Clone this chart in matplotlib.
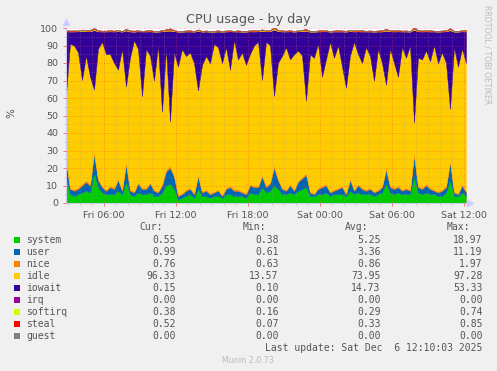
import matplotlib
matplotlib.use('Agg')
import matplotlib.pyplot as plt
from matplotlib.patches import Rectangle
import numpy as np

# 5-minute munin samples, read every 20 min (Fri 02:50 -> Sat 12:10)
start_hour = 2 + 50 / 60
step_hour = 20 / 60

system = [15, 5, 4, 5, 6, 7, 6, 17, 9, 6,
          5, 5, 5, 7, 5, 12, 5, 4, 6, 5,
          5, 6, 4, 4, 6, 10, 11, 8, 2, 3,
          4, 5, 3, 8, 4, 4, 3, 4, 4, 3,
          5, 5, 4, 4, 4, 3, 6, 5, 5, 9,
          6, 7, 10, 8, 5, 5, 6, 5, 7, 8,
          9, 4, 4, 5, 5, 6, 4, 5, 5, 5,
          4, 7, 5, 6, 5, 5, 5, 4, 5, 6,
          11, 6, 5, 6, 5, 5, 5, 15, 6, 5,
          6, 5, 5, 4, 4, 6, 13, 4, 4, 6,
          4]
user = [9, 3, 3, 3, 4, 5, 4, 11, 4, 3,
        2, 4, 3, 6, 2, 10, 2, 2, 5, 3,
        3, 5, 3, 2, 4, 8, 9, 7, 2, 2,
        3, 3, 2, 7, 2, 3, 2, 2, 3, 1,
        3, 4, 3, 3, 2, 2, 4, 4, 4, 6,
        3, 4, 10, 5, 3, 2, 4, 2, 5, 6,
        7, 2, 1, 3, 4, 4, 2, 2, 3, 4,
        1, 6, 2, 4, 3, 2, 3, 2, 2, 3,
        8, 3, 3, 3, 2, 3, 2, 12, 3, 3,
        4, 3, 2, 2, 3, 3, 10, 2, 1, 4,
        2]
nice = [0.9, 0.8, 0.8, 0.9, 1.1, 1.0, 0.9, 1.6, 0.9, 0.8,
        0.8, 0.9, 0.8, 1.0, 0.7, 1.4, 0.8, 0.7, 0.9, 0.8,
        0.8, 0.9, 0.7, 0.7, 0.9, 1.2, 1.3, 1.0, 0.7, 0.7,
        0.8, 0.8, 0.7, 1.1, 0.7, 0.8, 0.7, 0.7, 0.8, 0.7,
        0.8, 0.9, 0.8, 0.8, 0.7, 0.7, 0.9, 0.8, 0.9, 1.1,
        0.9, 0.9, 1.9, 1.0, 0.8, 0.8, 0.9, 0.7, 0.9, 1.0,
        1.2, 0.7, 0.7, 0.8, 0.9, 0.9, 0.7, 0.8, 0.8, 0.8,
        0.7, 1.0, 0.8, 0.9, 0.8, 0.8, 0.8, 0.7, 0.8, 0.8,
        1.3, 0.9, 0.8, 0.9, 0.8, 0.8, 0.7, 1.8, 0.9, 0.8,
        0.9, 0.8, 0.8, 0.7, 0.8, 0.9, 1.5, 0.7, 0.7, 0.9,
        0.8]
idle = [37.2, 82.2, 82.2, 77.2, 59.2, 71.2, 61.2, 35.2, 74.2, 82.2,
        77.2, 75.2, 71.2, 62.2, 80.2, 43.2, 75.2, 86.2, 76.2, 52.2,
        79.2, 72.2, 62.2, 83.2, 41.2, 69.2, 25.2, 70.2, 73.2, 82.2,
        76.2, 77.2, 74.2, 48.2, 72.2, 76.2, 74.2, 84.2, 81.2, 75.2,
        80.2, 66.2, 85.2, 74.2, 79.2, 73.2, 74.2, 80.2, 82.2, 54.2,
        82.2, 78.2, 39.2, 66.2, 75.2, 81.2, 71.2, 77.2, 74.2, 69.2,
        41.2, 78.2, 77.2, 82.2, 62.2, 71.2, 85.2, 75.2, 81.2, 68.2,
        60.2, 70.2, 84.2, 74.2, 71.2, 81.2, 75.2, 63.2, 80.2, 70.2,
        47.2, 78.2, 71.2, 62.2, 81.2, 74.2, 82.2, 17.2, 73.2, 73.2,
        76.2, 72.2, 82.2, 73.2, 78.2, 70.2, 29.2, 82.2, 72.2, 77.2,
        73.2]
iowait = [36, 7, 8, 12, 28, 14, 26, 34, 10, 6,
          13, 13, 18, 22, 10, 32, 15, 5, 10, 37,
          10, 14, 28, 8, 46, 10, 52, 12, 20, 10,
          14, 12, 18, 34, 19, 14, 18, 7, 9, 18,
          9, 22, 5, 16, 12, 19, 13, 8, 6, 28,
          6, 8, 38, 18, 14, 9, 16, 13, 11, 14,
          40, 13, 15, 7, 26, 16, 6, 15, 8, 20,
          32, 14, 6, 13, 18, 9, 14, 28, 10, 18,
          31, 10, 18, 26, 9, 15, 8, 53, 15, 16,
          11, 17, 8, 18, 12, 18, 45, 9, 20, 10,
          18]
irq = [0.0] * 101
softirq = [0.3, 0.2, 0.3, 0.3, 0.4, 0.3, 0.3, 0.6, 0.3, 0.2,
           0.3, 0.3, 0.2, 0.4, 0.2, 0.5, 0.3, 0.2, 0.3, 0.2,
           0.3, 0.3, 0.2, 0.2, 0.3, 0.4, 0.5, 0.3, 0.2, 0.2,
           0.3, 0.3, 0.2, 0.4, 0.2, 0.3, 0.2, 0.2, 0.3, 0.2,
           0.3, 0.3, 0.2, 0.3, 0.2, 0.2, 0.3, 0.3, 0.3, 0.4,
           0.3, 0.3, 0.7, 0.4, 0.3, 0.2, 0.3, 0.2, 0.3, 0.4,
           0.4, 0.2, 0.2, 0.3, 0.3, 0.3, 0.2, 0.3, 0.3, 0.3,
           0.2, 0.4, 0.3, 0.3, 0.3, 0.2, 0.3, 0.2, 0.3, 0.3,
           0.5, 0.3, 0.3, 0.3, 0.2, 0.3, 0.2, 0.7, 0.3, 0.3,
           0.3, 0.3, 0.2, 0.2, 0.3, 0.3, 0.6, 0.2, 0.2, 0.3,
           0.4]
steal = [0.3, 0.4, 0.3, 0.2, 0.4, 0.3, 0.5, 0.6, 0.3, 0.3,
         0.2, 0.4, 0.3, 0.3, 0.2, 0.5, 0.3, 0.4, 0.3, 0.2,
         0.3, 0.4, 0.3, 0.2, 0.5, 0.4, 0.8, 0.3, 0.2, 0.3,
         0.3, 0.4, 0.2, 0.5, 0.3, 0.3, 0.2, 0.3, 0.4, 0.2,
         0.3, 0.3, 0.2, 0.4, 0.3, 0.2, 0.3, 0.4, 0.3, 0.5,
         0.3, 0.4, 0.7, 0.4, 0.3, 0.3, 0.4, 0.2, 0.3, 0.4,
         0.6, 0.3, 0.2, 0.3, 0.4, 0.3, 0.2, 0.3, 0.4, 0.3,
         0.3, 0.4, 0.3, 0.3, 0.4, 0.2, 0.3, 0.3, 0.3, 0.4,
         0.5, 0.3, 0.3, 0.4, 0.3, 0.3, 0.2, 0.8, 0.4, 0.3,
         0.3, 0.4, 0.3, 0.2, 0.3, 0.3, 0.6, 0.3, 0.2, 0.4,
         0.5]
guest = [0.0] * 101

names = ['system', 'user', 'nice', 'idle', 'iowait', 'irq', 'softirq', 'steal', 'guest']
colors = ['#00CC00', '#0066B3', '#FF8000', '#FFCC00', '#330099',
          '#990099', '#CCFF00', '#FF0000', '#808080']
cur = ['0.55', '0.99', '0.76', '96.33', '0.15', '0.00', '0.38', '0.52', '0.00']
mins = ['0.38', '0.61', '0.63', '13.57', '0.10', '0.00', '0.16', '0.07', '0.00']
avgs = ['5.25', '3.36', '0.86', '73.95', '14.73', '0.00', '0.29', '0.33', '0.00']
maxs = ['18.97', '11.19', '1.97', '97.28', '53.33', '0.00', '0.74', '0.85', '0.00']

xticks = [6, 12, 18, 24, 30, 36]
xticklabels = ['Fri 06:00', 'Fri 12:00', 'Fri 18:00', 'Sat 00:00', 'Sat 06:00', 'Sat 12:00']

W, H = 497, 371
txt = '#555555'

def fx(x):
    return x / W

def fy(y):
    return 1 - y / H

hours = start_hour + step_hour * np.arange(len(system))

fig = plt.figure(figsize=(W / 100, H / 100), dpi=100, facecolor='#F0F0F0')
ax = fig.add_axes([fx(66), fy(203), fx(466) - fx(66), fy(28) - fy(203)])
ax.set_facecolor('white')

series = [system, user, nice, idle, iowait, irq, softirq, steal, guest]
polys = ax.stackplot(hours, *series, colors=colors, linewidth=0.3)
for p, c in zip(polys, colors):
    p.set_edgecolor(c)

ax.set_xlim(hours[0], hours[-1])
ax.set_ylim(0, 100)
ax.set_xticks(xticks)
ax.set_xticklabels(xticklabels)
ax.set_xticks(np.arange(3, 37), minor=True)
ax.set_yticks(np.arange(0, 101, 10))
ax.set_yticks(np.arange(0, 101, 5), minor=True)

ax.set_axisbelow(False)
ax.grid(which='minor', color='#999999', alpha=0.5, linestyle=(0, (1, 2)), linewidth=0.6)
ax.grid(which='major', color='#FF4040', alpha=0.55, linestyle=(0, (1, 2)), linewidth=0.6)

ax.tick_params(which='major', length=2.5, width=0.6, color='#FF6060', labelsize=6.8,
               labelcolor=txt, pad=3)
ax.tick_params(which='minor', length=1.5, width=0.5, color='#BBBBBB')
for s in ['top', 'right']:
    ax.spines[s].set_visible(False)
for s in ['left', 'bottom']:
    ax.spines[s].set_color('#CCCCEE')
    ax.spines[s].set_linewidth(0.8)
ax.plot([0], [1.035], marker='^', color='#CCCCFF', markersize=4,
        transform=ax.transAxes, clip_on=False)
ax.plot([1.01], [0], marker='>', color='#CCCCFF', markersize=4,
        transform=ax.transAxes, clip_on=False)

fig.text(fx(248), fy(19), 'CPU usage - by day', ha='center', va='center',
         fontsize=9.2, color=txt)
fig.text(fx(11), fy(113), '%', rotation=90, ha='center', va='center',
         fontsize=7.5, color=txt)
fig.text(fx(487), fy(5), 'RRDTOOL / TOBI OETIKER', rotation=270, ha='center', va='top',
         fontsize=5.6, color='#BBBBBB')

mono = 'DejaVu Sans Mono'
for hx, h in zip([163, 266.5, 368.5, 470.5], ['Cur:', 'Min:', 'Avg:', 'Max:']):
    fig.text(fx(hx), fy(227), h, ha='right', va='center', family=mono,
             fontsize=7, color=txt)
for k, name in enumerate(names):
    y = 240 + 12 * k
    fig.add_artist(Rectangle((fx(14), fy(y + 3)), fx(6), fy(y - 3) - fy(y + 3),
                             facecolor=colors[k], edgecolor='none',
                             transform=fig.transFigure))
    fig.text(fx(26.5), fy(y), name, ha='left', va='center', family=mono,
             fontsize=7, color=txt)
    for vx, vals in zip([175.7, 278.7, 380.7, 482.7], [cur, mins, avgs, maxs]):
        fig.text(fx(vx), fy(y), vals[k], ha='right', va='center', family=mono,
                 fontsize=7, color=txt)

fig.text(fx(482.7), fy(348), 'Last update: Sat Dec  6 12:10:03 2025', ha='right',
         va='center', family=mono, fontsize=7, color=txt)
fig.text(fx(248), fy(360.5), 'Munin 2.0.73', ha='center', va='center',
         fontsize=5.8, color='#BBBBBB')

fig.savefig('out.png', dpi=100, facecolor=fig.get_facecolor())
